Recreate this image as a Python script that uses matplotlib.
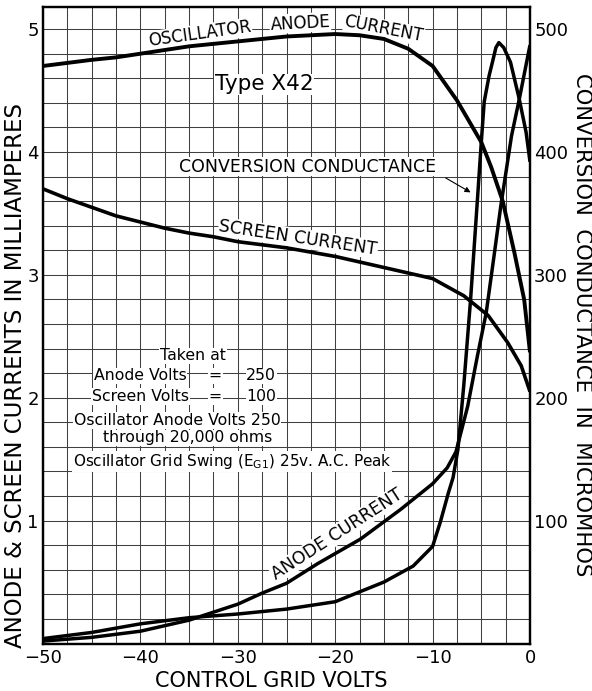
import numpy as np
import matplotlib
matplotlib.use('Agg')
import matplotlib.pyplot as plt

plt.rcParams['font.family'] = ['DejaVu Sans']
plt.rcParams['mathtext.fontset'] = 'dejavusans'

# oscillator anode current (mA) vs control grid volts
osc_v = [-50, -45, -42.5, -35, -30, -25, -20, -17.5, -15, -12.5, -10, -7.5, -5, -4, -2.8, -1.6, -0.6, 0]
osc_ma = [4.70, 4.75, 4.77, 4.86, 4.90, 4.94, 4.96, 4.95, 4.92, 4.84, 4.70, 4.42, 4.08, 3.88, 3.60, 3.18, 2.80, 2.37]

# screen current (mA)
scr_v = [-50, -47.5, -45, -42.5, -40, -37.5, -35, -32.5, -30, -25, -20, -15, -10, -6.8, -4.3, -2.3, -0.9, 0]
scr_ma = [3.70, 3.62, 3.55, 3.48, 3.43, 3.38, 3.34, 3.31, 3.27, 3.22, 3.15, 3.06, 2.97, 2.83, 2.67, 2.45, 2.26, 2.05]

# anode current (mA)
an_v = [-50, -45, -40, -35, -30, -27.5, -25, -21.8, -17.4, -13.3, -10, -8.5, -7.6, -6.4, -5.4, -4.5, -3.7, -3.0, -1.9, -1.1, 0]
an_ma = [0.02, 0.05, 0.10, 0.19, 0.32, 0.41, 0.49, 0.65, 0.85, 1.09, 1.30, 1.43, 1.56, 1.93, 2.34, 2.69, 3.15, 3.56, 4.13, 4.43, 4.87]

# conversion conductance (micromhos)
cc_v = [-50, -45, -40, -35, -30, -27.5, -25, -20, -15, -12, -10, -9.2, -8.4, -7.9, -7.4, -6.8, -6.1, -5.4, -5.0, -4.7,
        -4.2, -3.8, -3.5, -3.2, -2.7, -2.0, -1.1, -0.4, 0]
cc_umho = [4, 9, 16, 21, 24, 26, 28, 34, 50, 63, 79, 99, 122, 135, 158, 210, 280, 361, 408, 441,
           462, 475, 485, 489, 485, 473, 443, 416, 392]

x_ticks = [-50, -40, -30, -20, -10, 0]
y_ticks = [1, 2, 3, 4, 5]
y2_ticks = [100, 200, 300, 400, 500]

fig = plt.figure(figsize=(5.92, 6.91), dpi=100)
ax = fig.add_axes([43 / 592, 47.5 / 691, 487 / 592, 636.5 / 691])
ax2 = ax.twinx()

ax.set_xlim(-50, 0)
ax.set_ylim(0, 5.18)
ax2.set_ylim(0, 518)

ax.set_xticks(x_ticks)
ax.set_xticklabels(['\u2212' + str(-t) if t < 0 else str(t) for t in x_ticks])
ax.set_xticks(np.arange(-50, 0.01, 2.5), minor=True)
ax.set_yticks(y_ticks)
ax.set_yticks(np.arange(0, 5.19, 0.2), minor=True)
ax2.set_yticks(y2_ticks)

ax.grid(which='both', color='0.25', lw=0.75)
ax.set_axisbelow(True)
ax.tick_params(which='both', length=0, labelsize=13)
ax.tick_params(axis='x', pad=4)
ax.tick_params(axis='y', pad=3)
ax2.tick_params(length=0, labelsize=13, pad=3)
for a in (ax, ax2):
    for s in a.spines.values():
        s.set_linewidth(1.6)

ax.plot(osc_v, osc_ma, color='black', lw=2.8, solid_capstyle='butt', zorder=2)
ax.plot(scr_v, scr_ma, color='black', lw=2.6, solid_capstyle='butt', zorder=2)
ax.plot(an_v, an_ma, color='black', lw=2.5, solid_capstyle='butt', zorder=2)
ax2.plot(cc_v, cc_umho, color='black', lw=2.5, solid_capstyle='butt')

wb = dict(facecolor='white', edgecolor='none', pad=0.5)
lab = dict(ha='center', va='center', bbox=wb, zorder=1.5)

# curve labels
ax.text(-33.9, 4.96, 'OSCILLATOR', rotation=8, fontsize=12, **lab)
ax.text(-23.6, 5.05, 'ANODE', rotation=3, fontsize=12, **lab)
ax.text(-15.0, 5.00, 'CURRENT', rotation=-11, fontsize=12, **lab)
ax.text(-27.3, 4.55, 'Type X42', fontsize=15.5, **lab)
ax.text(-22.8, 3.88, 'CONVERSION CONDUCTANCE', fontsize=12.5, **lab)
ax.annotate('', xy=(-5.85, 3.66), xytext=(-8.9, 3.80),
            arrowprops=dict(arrowstyle='-|>', color='black', lw=0.8, mutation_scale=8))
ax.text(-23.8, 3.30, 'SCREEN CURRENT', rotation=-8.5, fontsize=12.5, **lab)
ax.text(-19.8, 0.89, 'ANODE CURRENT', rotation=33, fontsize=12.5, **lab)

# conditions block
tb = dict(fontsize=11.3, **lab)
ax.text(-34.6, 2.34, 'Taken at', **tb)
ax.text(-40.0, 2.18, 'Anode Volts', **tb)
ax.text(-32.3, 2.18, '=', **tb)
ax.text(-27.6, 2.18, '250', **tb)
ax.text(-40.0, 2.01, 'Screen Volts', **tb)
ax.text(-32.3, 2.01, '=', **tb)
ax.text(-27.6, 2.01, '100', **tb)
ax.text(-36.2, 1.815, 'Oscillator Anode Volts 250', **tb)
ax.text(-35.2, 1.675, 'through 20,000 ohms', **tb)
ax.text(-30.6, 1.48, r'Oscillator Grid Swing (E$_{\rm G1}$) 25v. A.C. Peak', fontsize=11,
        **lab)

# axis titles
fig.text(16 / 592, 1 - 375 / 691, 'ANODE & SCREEN CURRENTS IN MILLIAMPERES', rotation=90,
         fontsize=16.5, ha='center', va='center')
fig.text(582 / 592, 1 - 325 / 691, 'CONVERSION  CONDUCTANCE  IN  MICROMHOS', rotation=270,
         fontsize=15.2, ha='center', va='center')
fig.text(271 / 592, 1 - 681 / 691, 'CONTROL GRID VOLTS', fontsize=15, ha='center', va='center')

fig.savefig('out.png', dpi=100)
